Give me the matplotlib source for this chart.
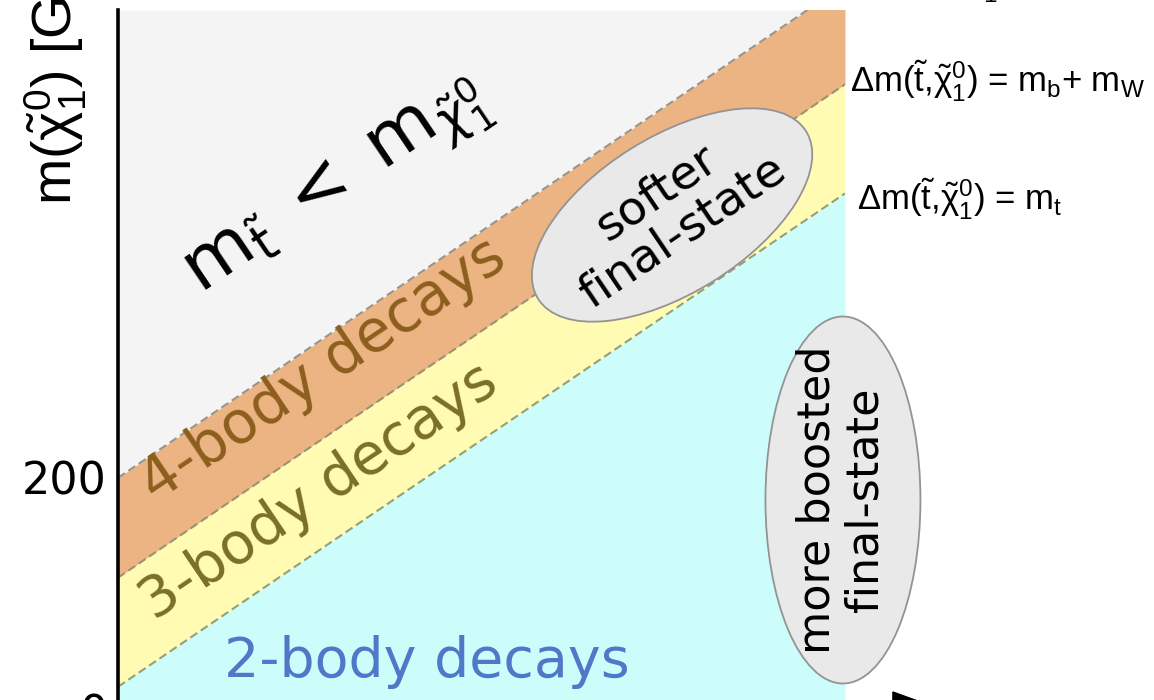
import matplotlib
matplotlib.use("Agg")
import matplotlib.pyplot as plt
from matplotlib.patches import Ellipse
from matplotlib.transforms import ScaledTranslation
import numpy as np

# stop mass range shown (GeV) and neutralino mass range
m_stop = np.array([200.0, 625.0])
m_chi_top = 603.0
# mass splittings of the kinematic boundaries: 0, m_b + m_W, m_t
dm_lines = [0.0, 86.0, 180.0]
region_cols = ["#f4f4f4", "#edb483", "#fffbb2", "#ccfdfa"]
line_cols = ["#9a9488", "#9a9270", "#93a07c"]
yticks = [0, 200]

# region labels
decay_labels = ["4-body decays", "3-body decays", "2-body decays"]
decay_cols = ["#8c5f1e", "#7a6e28", "#5078c8"]
decay_x = [320, 318, 380.6]
decay_y = [293, 187, 28.4]
decay_rot = [34, 34, 0]
decay_size = [42, 41, 40]

plt.rcParams["mathtext.fontset"] = "custom"
plt.rcParams["mathtext.rm"] = "Liberation Sans"
plt.rcParams["mathtext.it"] = "Liberation Sans"
plt.rcParams["mathtext.bf"] = "Liberation Sans:bold"

fig = plt.figure(figsize=(11.54, 7.0), dpi=100)
ax = fig.add_axes([118 / 1154, -10 / 700, 727 / 1154, 700 / 700])
ax.set_xlim(m_stop[0], m_stop[1])
ax.set_ylim(0, m_chi_top)

# filled regions
ax.fill_between(m_stop, m_stop - dm_lines[0], m_chi_top, color=region_cols[0], lw=0)
ax.fill_between(m_stop, m_stop - dm_lines[1], m_stop - dm_lines[0], color=region_cols[1], lw=0)
ax.fill_between(m_stop, m_stop - dm_lines[2], m_stop - dm_lines[1], color=region_cols[2], lw=0)
ax.fill_between(m_stop, 0, m_stop - dm_lines[2], color=region_cols[3], lw=0)

for dm, c in zip(dm_lines, line_cols):
    ax.plot(m_stop, m_stop - dm, ls=(0, (4, 2)), lw=1.5, color=c)

for lab, c, x, y, r, fs in zip(decay_labels, decay_cols, decay_x, decay_y, decay_rot, decay_size):
    va = "baseline" if r == 0 else "center"
    ax.text(x, y, lab, color=c, fontsize=fs, rotation=r, rotation_mode="anchor",
            ha="center", va=va, family="DejaVu Sans")

ax.text(329, 447, r"$\mathrm{m}_{\tilde{\mathrm{t}}}\;<\;\mathrm{m}_{\tilde{\chi}^{0}_{1}}$",
        fontsize=52, rotation=34, rotation_mode="anchor", ha="center", va="center",
        math_fontfamily="dejavusans")

# ellipses for final-state remarks
def blob(xc, yc, w, h, ang):
    tr = fig.dpi_scale_trans + ScaledTranslation(xc, yc, ax.transData)
    e = Ellipse((0, 0), w, h, angle=ang, transform=tr, facecolor="#e9e9e9",
                edgecolor="#939393", lw=1.3, clip_on=False, zorder=3)
    ax.add_patch(e)

blob(523.9, 426.4, 3.16, 1.56, 32)
blob(623.8, 180.9, 1.55, 3.67, 0)

ax.text(522.7, 429, "softer\nfinal-state", fontsize=34, rotation=34, rotation_mode="anchor",
        ha="center", va="center", multialignment="center", linespacing=1.05, zorder=4,
        family="DejaVu Sans")
ax.text(622.7, 180.9, "more boosted\nfinal-state", fontsize=32, rotation=90,
        rotation_mode="anchor", ha="center", va="center", multialignment="center",
        linespacing=1.15, zorder=4, clip_on=False, family="DejaVu Sans")

# axis styling
for s in ["top", "right", "bottom"]:
    ax.spines[s].set_visible(False)
ax.spines["left"].set_linewidth(2.6)
ax.set_xticks([])
ax.set_yticks(yticks)
ax.tick_params(axis="y", length=0, pad=8, labelsize=32)

# x axis arrow head at lower right
ax.fill([653, 653, 682], [-15.5, 15.5, 0], color="black", clip_on=False)

fig.text(56 / 1154, 1 - 205 / 700, r"m($\tilde{\chi}^{0}_{1}$) [GeV]", rotation=90,
         ha="center", va="bottom", fontsize=40, family="Liberation Sans")

# boundary labels on the right
fig.text(882 / 1154, 1 - (-6) / 700, r"$\Delta$m($\tilde{\mathrm{t}}$,$\tilde{\chi}^{0}_{1}$) = 0",
         fontsize=25, va="baseline", ha="left", family="Liberation Sans")
fig.text(850 / 1154, 1 - 93 / 700, r"$\Delta$m($\tilde{\mathrm{t}}$,$\tilde{\chi}^{0}_{1}$) = m$_{\mathrm{b}}$+ m$_{\mathrm{W}}$",
         fontsize=25, va="baseline", ha="left", family="Liberation Sans")
fig.text(857 / 1154, 1 - 210 / 700, r"$\Delta$m($\tilde{\mathrm{t}}$,$\tilde{\chi}^{0}_{1}$) = m$_{\mathrm{t}}$",
         fontsize=25, va="baseline", ha="left", family="Liberation Sans")

fig.savefig("out.png", dpi=100)
